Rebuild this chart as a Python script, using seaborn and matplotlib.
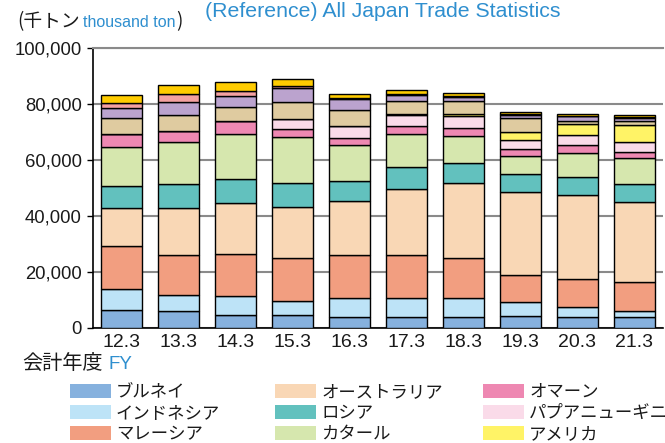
import matplotlib
matplotlib.use("Agg")
import matplotlib.pyplot as plt
import matplotlib.patches as mpatches
import seaborn as sns
import pandas as pd
import numpy as np

# ---------------- data (thousand ton) ----------------
years = ["12.3", "13.3", "14.3", "15.3", "16.3", "17.3", "18.3", "19.3", "20.3", "21.3"]

brunei    = [6350, 6100, 4700, 4500, 4100, 4000, 3900, 4350, 4100, 4000]
indonesia = [7650, 5700, 6600, 5300, 6500, 6800, 6700, 4850, 3400, 2200]
malaysia  = [15300, 14300, 15100, 15100, 15500, 15400, 14300, 9900, 10100, 10400]
australia = [13400, 16800, 18300, 18400, 19200, 23600, 26900, 29400, 29900, 28500]
russia    = [7900, 8500, 8600, 8500, 7100, 7600, 7000, 6400, 6400, 6300]
qatar     = [14200, 15200, 16100, 16400, 13100, 12000, 9800, 6400, 8600, 9200]
oman      = [4600, 3900, 4400, 3000, 2500, 2600, 2800, 2700, 3000, 2300]
png       = [0, 0, 0, 3500, 4300, 4000, 4200, 3300, 3600, 3700]
usa       = [0, 0, 0, 0, 0, 300, 900, 2700, 3800, 6000]
uae       = [5500, 5600, 5100, 5900, 5700, 4900, 4700, 4900, 1200, 1200]
nigeria   = [3600, 4700, 3900, 5100, 3700, 2000, 1400, 1300, 1500, 1200]
eqguinea  = [2000, 2700, 1800, 900, 300, 300, 200, 200, 200, 300]
others    = [2700, 3400, 3200, 2500, 1500, 1400, 1100, 900, 700, 900]

series_names = ["ブルネイ", "インドネシア", "マレーシア", "オーストラリア", "ロシア", "カタール",
                "オマーン", "パプアニューギニア", "アメリカ",
                "アラブ首長国連邦", "ナイジェリア", "赤道ギニア", "その他"]
series_vals = [brunei, indonesia, malaysia, australia, russia, qatar,
               oman, png, usa, uae, nigeria, eqguinea, others]
series_colors = ["#86b1de", "#bde3f7", "#f29e80", "#f9d7b5", "#62c1be", "#d6e7ae",
                 "#ee88b2", "#fadbe9", "#fff366", "#dfcba0", "#bba3ce", "#f4a1a1", "#ffcc00"]

yticks = [0, 20000, 40000, 60000, 80000, 100000]
ytick_labels = ["0", "20,000", "40,000", "60,000", "80,000", "100,000"]

BLUE = "#2f8fcf"

# ---------------- style ----------------
sns.set_theme(style="white")
plt.rcParams["font.family"] = ["Liberation Sans", "Noto Sans CJK JP", "DejaVu Sans"]

W, H = 665, 443
fig = plt.figure(figsize=(W / 100, H / 100), dpi=100)
ax = fig.add_axes([93 / W, 1 - 328 / H, 570 / W, 280 / H])

df = pd.DataFrame({"year": years})
bottom = np.zeros(len(years))
for name, vals, col in zip(series_names, series_vals, series_colors):
    df["v"] = vals
    sns.barplot(data=df, x="year", y="v", color=col, width=0.72, bottom=bottom,
                edgecolor="black", linewidth=1.0, ax=ax, order=years,
                errorbar=None, saturation=1, label=name, zorder=3)
    bottom = bottom + np.array(vals)

ax.set_xlim(-0.5, len(years) - 0.5)
ax.set_ylim(0, 100000)
ax.set_yticks(yticks)
ax.set_yticklabels(ytick_labels, fontsize=13.3)
ax.set_xticks(range(len(years)))
ax.set_xticklabels(years, fontsize=14)
ax.set_xticks(np.arange(-0.5, len(years)), minor=True)
ax.tick_params(axis="x", which="major", length=0, pad=4, colors="#1a1a1a")
ax.tick_params(axis="x", which="minor", length=5, width=1, direction="in", color="black")
ax.tick_params(axis="y", length=4, width=1, direction="out", color="black", pad=4,
               colors="#1a1a1a", left=True)
ax.set_xlabel("")
ax.set_ylabel("")
ax.yaxis.grid(True, color="#8a8a8a", linewidth=1.5)
ax.xaxis.grid(False)
ax.set_axisbelow(True)
for s in ["left", "bottom"]:
    ax.spines[s].set_color("black")
    ax.spines[s].set_linewidth(1.2)
ax.spines["top"].set_color("#8a8a8a")
ax.spines["top"].set_linewidth(1.5)
ax.spines["right"].set_visible(False)
if ax.get_legend() is not None:
    ax.get_legend().remove()

# ---------------- texts ----------------
renderer = fig.canvas.get_renderer()


def chain(parts, x0, y0, fs_list, colors, families, gaps):
    x = x0
    for txt, fs, c, fam, g in zip(parts, fs_list, colors, families, gaps):
        x = x + g
        t = fig.text(x / W, 1 - y0 / H, txt, fontsize=fs, color=c, family=fam,
                     ha="left", va="baseline")
        bb = t.get_window_extent(renderer=renderer)
        x = x + bb.width


jp = ["Noto Sans CJK JP", "DejaVu Sans"]
lat = ["Liberation Sans", "DejaVu Sans"]
chain(["(千トン", "thousand ton", ")"], 17, 27, [13.5, 11.5, 13.5],
      ["#1a1a1a", BLUE, "#1a1a1a"],
      [jp, ["Liberation Sans Narrow", "Liberation Sans"], jp], [0, 3, 1])
fig.text(205 / W, 1 - 17 / H, "(Reference) All Japan Trade Statistics", fontsize=15.3,
         color=BLUE, family=lat, ha="left", va="baseline")
chain(["会計年度", "FY"], 22, 369, [14.5, 13.5], ["#1a1a1a", BLUE], [jp, lat], [0, 6])

# ---------------- legend (3 columns) ----------------
col_x = [70, 275, 483]
for ci in range(3):
    handles = []
    for ri in range(3):
        k = ci * 3 + ri
        handles.append(mpatches.Patch(facecolor=series_colors[k], edgecolor="none",
                                      label=series_names[k]))
    fig.legend(handles=handles, loc="upper left",
               bbox_to_anchor=(col_x[ci] / W, 1 - 383 / H),
               frameon=False, borderpad=0, borderaxespad=0,
               handlelength=2.35, handleheight=0.8, handletextpad=0.3,
               labelspacing=0.17, prop={"family": jp, "size": 12.5},
               labelcolor="#1a1a1a")

fig.savefig("out.png", dpi=100)
